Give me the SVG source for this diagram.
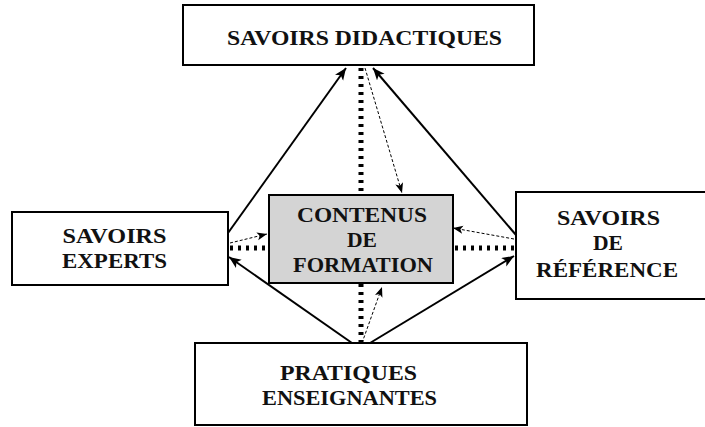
<svg xmlns="http://www.w3.org/2000/svg" width="705" height="427" viewBox="0 0 705 427">
<style>
.box{fill:#fff;stroke:#000;stroke-width:2}
.cbox{fill:#d4d4d4;stroke:#000;stroke-width:2}
.t{font-family:"Liberation Serif","Times New Roman",serif;font-weight:bold;font-size:20px;fill:#111;text-anchor:middle}
.solid{stroke:#000;stroke-width:2;fill:none;marker-end:url(#ah)}
.dots{stroke:#000;stroke-width:5;stroke-dasharray:3 5;fill:none}
.thin{stroke:#000;stroke-width:1;stroke-dasharray:3 2;fill:none;marker-end:url(#ahs)}
</style>
<defs>
<marker id="ah" markerUnits="userSpaceOnUse" markerWidth="14" markerHeight="12" refX="12" refY="5" orient="auto"><path d="M0,0 L12,5 L0,10 L3,5 z" fill="#000"/></marker>
<marker id="ahs" markerUnits="userSpaceOnUse" markerWidth="12" markerHeight="10" refX="10" refY="4" orient="auto"><path d="M0,0 L10,4 L0,8 L2.5,4 z" fill="#000"/></marker>
</defs>
<g id="connectors">
<line class="solid" x1="228" y1="233" x2="346" y2="68"/>
<line class="solid" x1="516" y1="235" x2="373" y2="68"/>
<line class="solid" x1="352" y1="343" x2="229" y2="257"/>
<line class="solid" x1="370" y1="343" x2="514" y2="256"/>
<line class="dots" x1="361" y1="68" x2="361" y2="195"/>
<line class="dots" x1="361" y1="284" x2="361" y2="343"/>
<line class="dots" x1="230" y1="248" x2="268" y2="248"/>
<line class="dots" x1="455" y1="248" x2="515" y2="248"/>
<line class="thin" x1="365" y1="68" x2="402" y2="193"/>
<line class="thin" x1="230" y1="243" x2="267" y2="234"/>
<line class="thin" x1="514" y1="239" x2="453" y2="228"/>
<line class="thin" x1="362" y1="343" x2="382" y2="287"/>
</g>
<g id="savoirs-didactiques">
<rect class="box" x="183" y="5" width="351" height="60"/>
<text class="t" x="364.5" y="45" textLength="275" lengthAdjust="spacingAndGlyphs">SAVOIRS DIDACTIQUES</text>
</g>
<g id="savoirs-experts">
<rect class="box" x="12" y="212" width="216" height="73"/>
<text class="t" x="114.5" y="243" textLength="104" lengthAdjust="spacingAndGlyphs">SAVOIRS</text>
<text class="t" x="114.5" y="268" textLength="105" lengthAdjust="spacingAndGlyphs">EXPERTS</text>
</g>
<g id="savoirs-de-reference">
<rect class="box" x="516" y="192" width="194" height="107"/>
<text class="t" x="608.5" y="225" textLength="103" lengthAdjust="spacingAndGlyphs">SAVOIRS</text>
<text class="t" x="608" y="250" textLength="30" lengthAdjust="spacingAndGlyphs">DE</text>
<text class="t" x="607" y="277" textLength="142" lengthAdjust="spacingAndGlyphs">RÉFÉRENCE</text>
</g>
<g id="contenus-de-formation">
<rect class="cbox" x="269" y="195" width="184" height="88"/>
<text class="t" x="362" y="222" textLength="130" lengthAdjust="spacingAndGlyphs">CONTENUS</text>
<text class="t" x="362" y="247" textLength="30" lengthAdjust="spacingAndGlyphs">DE</text>
<text class="t" x="363" y="272" textLength="140" lengthAdjust="spacingAndGlyphs">FORMATION</text>
</g>
<g id="pratiques-enseignantes">
<rect class="box" x="195" y="343" width="332" height="82"/>
<text class="t" x="348.5" y="380" textLength="137" lengthAdjust="spacingAndGlyphs">PRATIQUES</text>
<text class="t" x="349.5" y="405" textLength="175" lengthAdjust="spacingAndGlyphs">ENSEIGNANTES</text>
</g>
</svg>
